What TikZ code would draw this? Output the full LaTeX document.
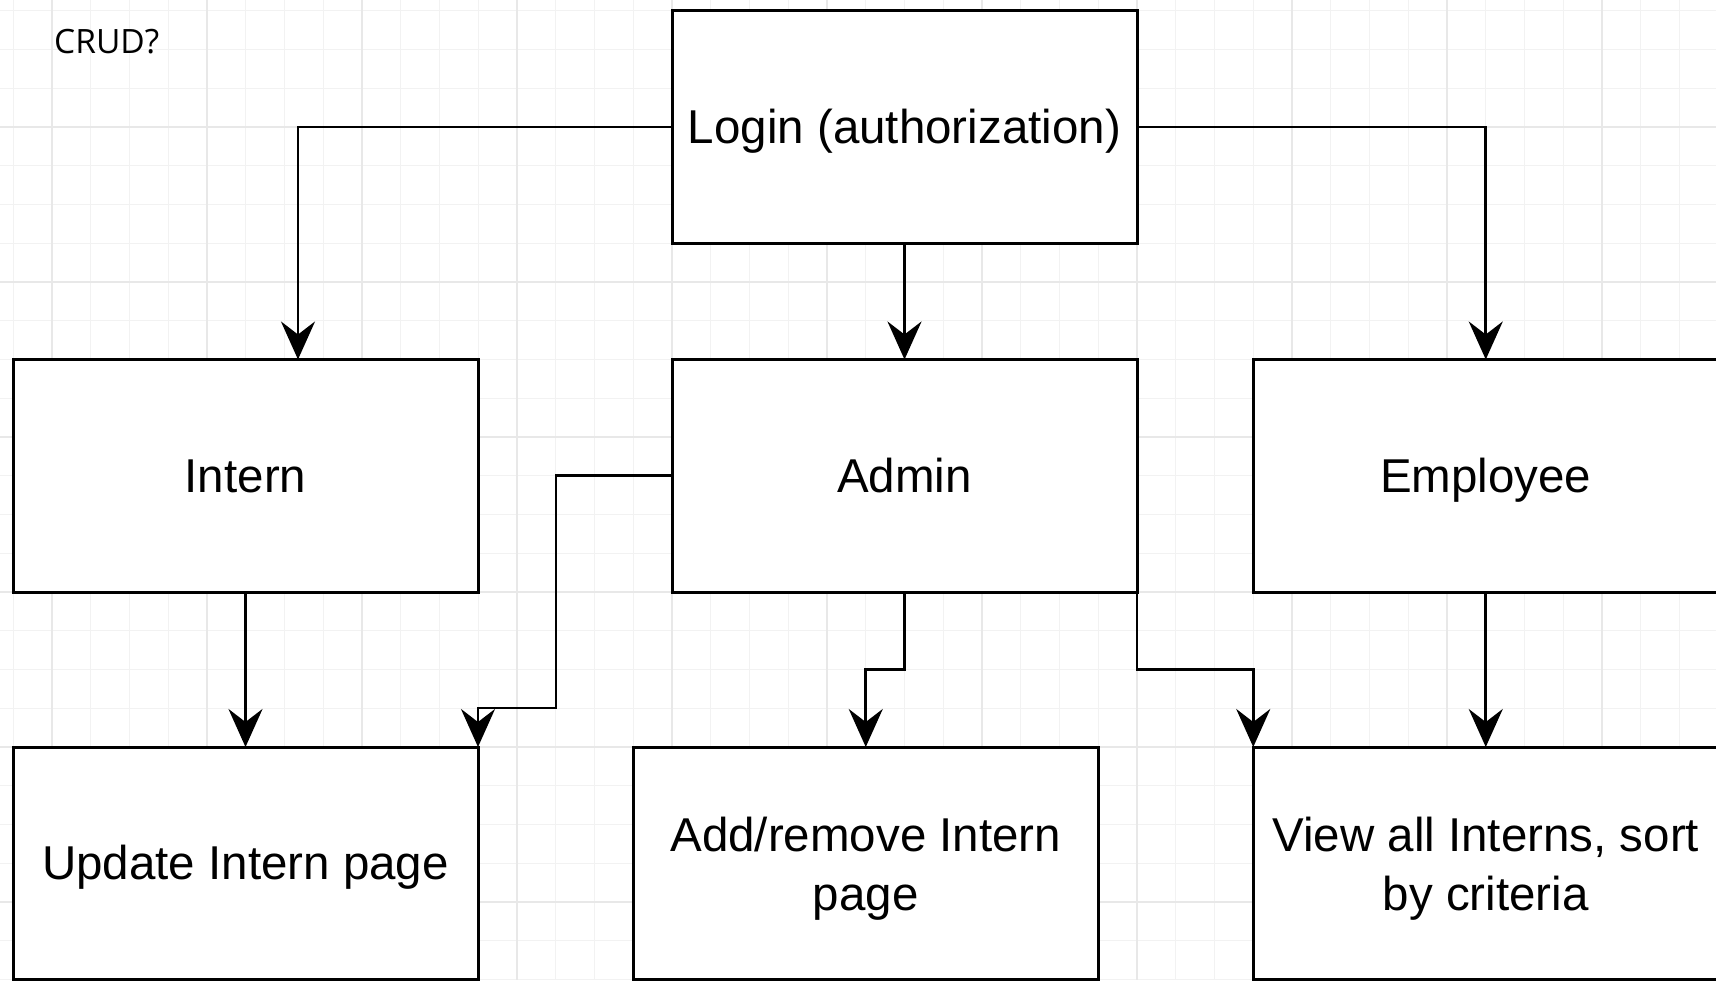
\documentclass[tikz,border=0pt]{standalone}
\usepackage{fontspec}
\setmainfont{Liberation Sans}
\newfontfamily\crudfont{Open Sans}
\usetikzlibrary{arrows.meta,calc}
\tikzset{
  box/.style={draw=black, line width=3pt, fill=white, rectangle, minimum width=465pt, minimum height=232.5pt, inner sep=0pt, outer sep=0pt, align=center, font=\fontsize{47.5}{59}\selectfont},
  oneline/.style={text height=44pt, text depth=11pt},
  conn/.style={draw=black, line width=2.6pt, -{Stealth[length=38pt,width=34pt,inset=13pt]}},
  gridminor/.style={draw=black!5, line width=1.2pt},
  gridmajor/.style={draw=black!9, line width=1.4pt}
}
\newcommand\twolines[2]{\raisebox{0pt}[\dimexpr\height+12pt\relax][\depth]{\begin{tabular}{@{}c@{}}#1\\#2\end{tabular}}}
\begin{document}
\begin{tikzpicture}[x=1pt,y=-1pt]
\useasboundingbox (0,0) rectangle (1716,980);
\fill[white] (0,0) rectangle (1716,980);
% grid
\foreach \i in {-1,...,43} {
  \pgfmathsetmacro\gx{52+38.75*\i}
  \draw[gridminor] (\gx,0) -- (\gx,980);
}
\foreach \j in {-4,...,22} {
  \pgfmathsetmacro\gy{127+38.75*\j}
  \draw[gridminor] (0,\gy) -- (1716,\gy);
}
\foreach \i in {-1,...,11} {
  \pgfmathsetmacro\gx{52+155*\i}
  \draw[gridmajor] (\gx,0) -- (\gx,980);
}
\foreach \j in {-1,...,6} {
  \pgfmathsetmacro\gy{127+155*\j}
  \draw[gridmajor] (0,\gy) -- (1716,\gy);
}
% text
\node[anchor=west, font=\crudfont\fontsize{33.5}{40}\selectfont, inner sep=0pt] (crud) at (54,42) {CRUD?};
% boxes
\node[box, oneline] (login) at (904.5,127) {Login (authorization)};
\node[box, oneline] (intern) at (245.5,475.75) {Intern};
\node[box, oneline] (admin) at (904.5,475.75) {Admin};
\node[box, oneline] (employee) at (1485.75,475.75) {Employee};
\node[box, oneline] (update) at (245.5,863.25) {Update Intern page};
\node[box] (add) at (865.75,863.25) {\twolines{Add/remove Intern}{page}};
\node[box] (view) at (1485.75,863.25) {\twolines{View all Interns, sort}{by criteria}};
% connectors
\draw[conn] (login.west) -| ($(intern.north)+(52.5,0)$);
\draw[conn] (login.south) -- (admin.north);
\draw[conn] (login.east) -| (employee.north);
\draw[conn] (intern.south) -- (update.north);
\coordinate (a1) at (556,708);
\draw[conn] (admin.west) -| (a1) -- (a1 -| update.north east) -- (update.north east);
\draw[conn] (admin.south) |- ($(admin.south)!0.5!(add.north)$) -| (add.north);
\draw[conn] (admin.south east) |- ($(admin.south east)!0.5!(view.north west)$) -| (view.north west);
\draw[conn] (employee.south) -- (view.north);
\end{tikzpicture}
\end{document}
